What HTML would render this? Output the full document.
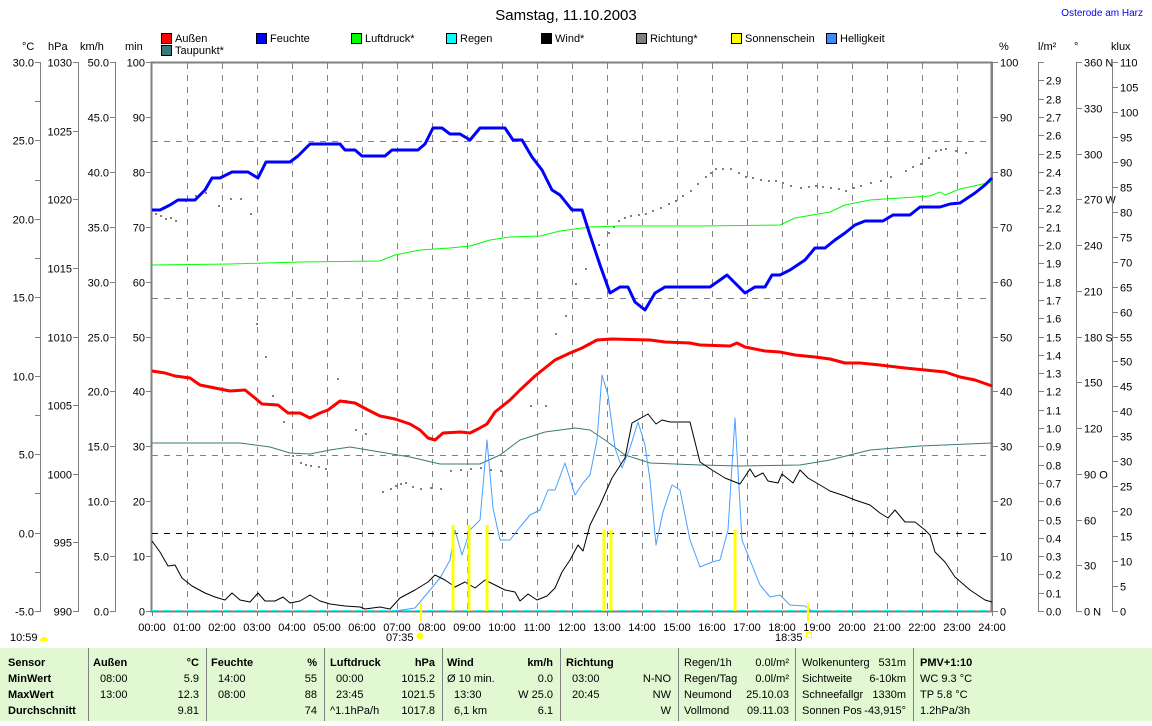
<!DOCTYPE html>
<html><head><meta charset="utf-8"><style>
body{margin:0;background:#fff;width:1152px;height:721px;overflow:hidden;font-family:"Liberation Sans",sans-serif}
svg text{font-family:"Liberation Sans",sans-serif;font-size:11px;fill:#000}
</style></head><body>
<svg width="1152" height="721" xmlns="http://www.w3.org/2000/svg">
<text x="566" y="20" font-size="15" text-anchor="middle" style="font-size:15px">Samstag, 11.10.2003</text>
<text x="1143" y="16" text-anchor="end" style="fill:#00f;font-size:10px">Osterode am Harz</text>
<g id="legend" stroke="#000" stroke-width="1">
<rect x="161.5" y="33.5" width="10" height="10" fill="#f00"/>
<rect x="256.5" y="33.5" width="10" height="10" fill="#00f"/>
<rect x="351.5" y="33.5" width="10" height="10" fill="#0f0"/>
<rect x="446.5" y="33.5" width="10" height="10" fill="#0ff"/>
<rect x="541.5" y="33.5" width="10" height="10" fill="#000"/>
<rect x="636.5" y="33.5" width="10" height="10" fill="#808080"/>
<rect x="731.5" y="33.5" width="10" height="10" fill="#ff0"/>
<rect x="826.5" y="33.5" width="10" height="10" fill="#48f"/>
<rect x="161.5" y="45.5" width="10" height="10" fill="#3a7a7a"/>
</g>
<g font-size="11">
<text x="175" y="42">Außen</text><text x="270" y="42">Feuchte</text><text x="365" y="42">Luftdruck*</text>
<text x="460" y="42">Regen</text><text x="555" y="42">Wind*</text><text x="650" y="42">Richtung*</text>
<text x="745" y="42">Sonnenschein</text><text x="840" y="42">Helligkeit</text><text x="175" y="54">Taupunkt*</text>
<text x="22" y="50">°C</text><text x="48" y="50">hPa</text><text x="80" y="50">km/h</text><text x="125" y="50">min</text>
<text x="999" y="50">%</text><text x="1038" y="50">l/m²</text><text x="1074" y="50">°</text><text x="1111" y="50">klux</text>
</g>
<g id="axes" stroke="#808080" stroke-width="1"></g>
<g id="grid"></g>
<g id="series" fill="none"></g>
<rect x="0" y="648" width="1152" height="73" fill="#e2f8d2"/>
<g stroke="#808080"><line x1="88.5" y1="648" x2="88.5" y2="721"/><line x1="206.5" y1="648" x2="206.5" y2="721"/><line x1="324.5" y1="648" x2="324.5" y2="721"/><line x1="442.5" y1="648" x2="442.5" y2="721"/><line x1="560.5" y1="648" x2="560.5" y2="721"/><line x1="678.5" y1="648" x2="678.5" y2="721"/><line x1="795.5" y1="648" x2="795.5" y2="721"/><line x1="913.5" y1="648" x2="913.5" y2="721"/></g>
<g font-size="11">
<text x="8" y="666" font-weight="bold">Sensor</text><text x="8" y="682" font-weight="bold">MinWert</text><text x="8" y="698" font-weight="bold">MaxWert</text><text x="8" y="714" font-weight="bold">Durchschnitt</text>
<text x="93" y="666" font-weight="bold">Außen</text><text x="199" y="666" text-anchor="end" font-weight="bold">°C</text>
<text x="100" y="682">08:00</text><text x="199" y="682" text-anchor="end">5.9</text>
<text x="100" y="698">13:00</text><text x="199" y="698" text-anchor="end">12.3</text>
<text x="199" y="714" text-anchor="end">9.81</text>
<text x="211" y="666" font-weight="bold">Feuchte</text><text x="317" y="666" text-anchor="end" font-weight="bold">%</text>
<text x="218" y="682">14:00</text><text x="317" y="682" text-anchor="end">55</text>
<text x="218" y="698">08:00</text><text x="317" y="698" text-anchor="end">88</text>
<text x="317" y="714" text-anchor="end">74</text>
<text x="330" y="666" font-weight="bold">Luftdruck</text><text x="435" y="666" text-anchor="end" font-weight="bold">hPa</text>
<text x="336" y="682">00:00</text><text x="435" y="682" text-anchor="end">1015.2</text>
<text x="336" y="698">23:45</text><text x="435" y="698" text-anchor="end">1021.5</text>
<text x="330" y="714">^1.1hPa/h</text><text x="435" y="714" text-anchor="end">1017.8</text>
<text x="447" y="666" font-weight="bold">Wind</text><text x="553" y="666" text-anchor="end" font-weight="bold">km/h</text>
<text x="447" y="682">Ø 10 min.</text><text x="553" y="682" text-anchor="end">0.0</text>
<text x="454" y="698">13:30</text><text x="553" y="698" text-anchor="end">W 25.0</text>
<text x="454" y="714">6,1 km</text><text x="553" y="714" text-anchor="end">6.1</text>
<text x="566" y="666" font-weight="bold">Richtung</text>
<text x="572" y="682">03:00</text><text x="671" y="682" text-anchor="end">N-NO</text>
<text x="572" y="698">20:45</text><text x="671" y="698" text-anchor="end">NW</text>
<text x="671" y="714" text-anchor="end">W</text>
<text x="684" y="666">Regen/1h</text><text x="789" y="666" text-anchor="end">0.0l/m²</text>
<text x="684" y="682">Regen/Tag</text><text x="789" y="682" text-anchor="end">0.0l/m²</text>
<text x="684" y="698">Neumond</text><text x="789" y="698" text-anchor="end">25.10.03</text>
<text x="684" y="714">Vollmond</text><text x="789" y="714" text-anchor="end">09.11.03</text>
<text x="802" y="666">Wolkenunterg</text><text x="906" y="666" text-anchor="end">531m</text>
<text x="802" y="682">Sichtweite</text><text x="906" y="682" text-anchor="end">6-10km</text>
<text x="802" y="698">Schneefallgr</text><text x="906" y="698" text-anchor="end">1330m</text>
<text x="802" y="714">Sonnen Pos</text><text x="906" y="714" text-anchor="end">-43,915°</text>
<text x="920" y="666" font-weight="bold">PMV+1:10</text>
<text x="920" y="682">WC 9.3 °C</text><text x="920" y="698">TP 5.8 °C</text><text x="920" y="714">1.2hPa/3h</text>
<text x="10" y="641">10:59</text><text x="386" y="641">07:35</text><text x="775" y="641">18:35</text>
</g>
<path d="M40 641 a4 4 0 0 1 8 0 z" fill="#ff0"/>
<circle cx="420" cy="636" r="3.5" fill="#ff0"/>
<rect x="806.5" y="632.5" width="5" height="5" fill="none" stroke="#ff0"/>
</svg>
<script>
const NS="http://www.w3.org/2000/svg";
function el(p,t,a,txt){const e=document.createElementNS(NS,t);for(const k in a)e.setAttribute(k,a[k]);if(txt!==undefined)e.textContent=txt;document.getElementById(p).appendChild(e);return e;}
const T=62,B=611,H=B-T;
function axis(x,left,n,lab,every){el('axes','line',{x1:x+.5,y1:T,x2:x+.5,y2:B});for(let i=0;i<=n;i++){const y=Math.round(T+H*i/n)+.5;const L=lab(i);el('axes','line',{x1:left?x-5:x,y1:y,x2:left?x+1:x+6,y2:y});if(L!==null)el('axes','text',{x:left?x-6:x+8,y:y+4,'text-anchor':left?'end':'start',stroke:'none'},L);}}
axis(40,1,14,i=>i%2?null:(30-2.5*i).toFixed(1));
axis(78,1,8,i=>String(1030-5*i));
axis(115,1,10,i=>(50-5*i).toFixed(1));
axis(151,1,10,i=>String(100-10*i));
axis(992,0,10,i=>String(100-10*i));
axis(1038,0,30,i=>i==0?null:(3-0.1*i).toFixed(1));
const dirs={0:' N',3:' W',6:' S',9:' O',12:' N'};
axis(1076,0,12,i=>String(360-30*i)+(dirs[i]||''));
axis(1112,0,22,i=>String(110-5*i));
// plot frame
el('grid','rect',{x:151.5,y:62.5,width:840,height:549,fill:'none',stroke:'#808080','stroke-width':2});
for(let h=1;h<24;h++){const x=152+35*h+.5;el('grid','line',{x1:x,y1:63,x2:x,y2:611,stroke:'#808080','stroke-dasharray':'6,6'});}
for(let h=0;h<=24;h++){const x=152+35*h;el('grid','line',{x1:x+.5,y1:611,x2:x+.5,y2:616,stroke:'#808080'});el('grid','text',{x:x,y:631,'text-anchor':'middle'},(h<10?'0':'')+h+':00');}
[141,298,455].forEach(y=>el('grid','line',{x1:152,y1:y+.5,x2:992,y2:y+.5,stroke:'#808080','stroke-dasharray':'6,6'}));
el('grid','line',{x1:152,y1:533.5,x2:992,y2:533.5,stroke:'#000','stroke-dasharray':'6,6'});
el('grid','line',{x1:152,y1:610.5,x2:992,y2:610.5,stroke:'#0ff','stroke-dasharray':'6,6'});
function pl(pts,c,w){el('series','polyline',{points:pts,stroke:c,'stroke-width':w,fill:'none','stroke-linejoin':'round'});}
// direction dots
const dots=[[155,213],[160,215],[165,218],[170,217],[175,220],[185,200],[195,195],[205,192],[218,205],[230,198],[240,198],[250,213],[256,323],[265,356],[272,395],[283,421],[292,455],[300,462],[305,464],[310,465],[318,466],[325,468],[337,378],[345,400],[355,429],[365,433],[382,491],[390,488],[395,485],[400,483],[405,482],[412,486],[420,488],[430,487],[440,488],[450,470],[460,469],[470,468],[480,467],[490,469],[500,470],[530,405],[545,405],[555,333],[565,315],[575,283],[585,268],[598,244],[608,232],[613,226],[618,220],[624,217],[630,215],[638,214],[645,213],[652,210],[660,207],[668,203],[675,200],[682,195],[690,190],[697,183],[705,176],[710,172],[715,168],[722,168],[730,168],[738,172],[745,176],[752,177],[760,179],[768,180],[775,180],[782,182],[790,185],[800,187],[808,186],[815,185],[822,186],[830,187],[838,188],[845,190],[853,187],[860,185],[870,182],[880,180],[890,176],[905,170],[912,166],[920,163],[928,157],[935,150],[940,149],[945,148],[955,150],[965,152]];
dots.forEach(d=>el('series','rect',{x:d[0],y:d[1],width:2,height:2,fill:'#808080'}));
pl("152,443 240,443 270,447 290,453 310,454 330,450 350,447 380,452 410,457 440,464 480,464 500,455 520,440 545,432 575,428 590,430 605,440 625,455 650,463 700,465 740,466 800,465 830,460 870,450 920,446 992,443","#3a7a7a",1);
pl("152,265 230,264 300,262 380,261 395,255 420,250 450,248 470,246 490,240 510,237 540,236 560,231 590,227 620,226 700,226 780,225 795,218 830,212 845,205 870,200 930,196 940,192 945,195 960,189 992,182","#0f0",1);
pl("395,611 415,608 430,590 440,578 450,560 455,530 462,555 470,530 480,520 487,440 493,508 500,540 510,540 520,527 530,515 540,510 548,490 555,490 565,463 575,495 583,483 590,475 597,440 602,375 608,395 615,448 622,468 630,448 638,422 645,445 650,480 656,545 663,512 672,485 680,490 690,540 700,567 712,562 720,560 728,530 735,418 742,540 750,560 760,585 770,597 780,595 790,605 805,606 812,611","#48a0ff",1);
pl("152,541 160,552 168,566 175,565 182,578 192,586 205,593 215,597 225,600 232,593 240,600 250,602 258,593 265,601 275,601 283,597 290,603 300,601 310,595 320,601 330,604 345,606 360,607 365,609 380,607 390,609 400,598 415,590 428,582 435,575 445,580 455,587 465,582 475,588 485,580 495,585 505,590 515,592 520,601 528,594 537,600 547,596 555,588 562,572 570,560 578,545 583,551 590,525 600,505 612,478 625,458 632,423 648,414 656,424 662,420 670,422 690,422 700,462 712,470 725,478 740,484 750,469 755,477 763,473 768,481 778,483 782,474 793,483 800,470 808,478 820,485 830,491 845,496 855,500 870,505 880,513 888,518 895,510 905,522 915,522 925,530 930,535 935,552 945,562 955,577 970,590 985,600 992,602","#000",1);
pl("152,371 165,373 175,376 190,378 200,385 215,388 230,391 245,390 255,398 262,404 278,405 288,413 300,413 310,418 320,413 328,410 340,401 355,403 368,410 380,416 395,419 410,424 420,430 428,438 435,440 443,433 460,432 470,433 478,429 487,424 495,412 510,400 520,390 535,376 545,368 555,360 570,353 582,348 597,340 612,339 650,340 665,342 690,343 700,345 730,346 737,343 745,347 765,351 780,352 795,355 815,357 830,359 845,363 860,363 880,365 905,368 925,370 945,372 960,377 975,380 992,386","#f00",3);
pl("152,210 160,210 170,205 178,200 195,200 205,190 212,178 220,178 232,172 248,172 258,178 266,162 290,162 298,156 310,144 340,144 345,150 355,150 362,156 385,156 392,150 418,150 425,144 433,128 442,128 450,134 460,134 470,140 480,128 505,128 513,140 522,140 532,157 542,170 552,190 560,195 572,210 582,210 590,235 600,265 610,293 620,287 628,287 635,302 645,310 655,293 665,287 710,287 720,280 727,275 735,283 745,293 755,287 765,287 772,275 780,275 790,270 805,260 815,248 825,248 835,240 845,233 855,225 865,221 883,221 893,215 910,215 920,207 940,207 950,204 960,203 975,193 985,185 992,178","#00f",3);
[[453,525],[469,525],[487,525],[604,530],[611,530],[735,530]].forEach(b=>el('series','rect',{x:b[0]-1.5,y:b[1],width:3,height:611-b[1],fill:'#ff0'}));
[421,808].forEach(x=>el('series','rect',{x:x-1,y:603,width:2,height:18,fill:'#ff0'}));
</script>
</body></html>
